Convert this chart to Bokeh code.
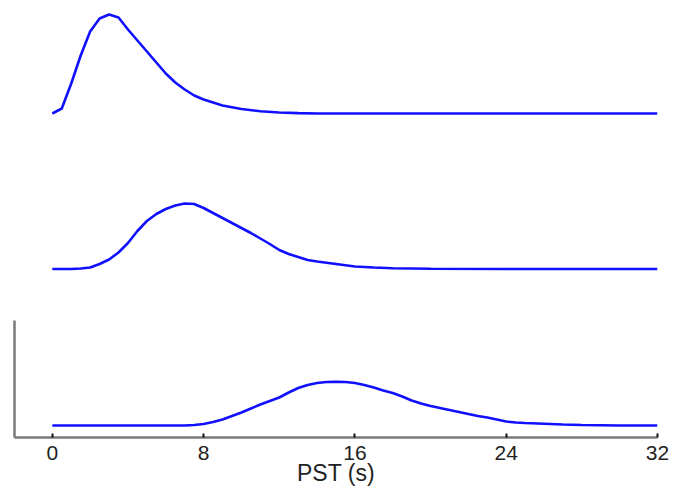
from bokeh.plotting import figure
from bokeh.models import FixedTicker, Range1d
from bokeh.embed import file_html
from bokeh.resources import INLINE

# Peri-stimulus time (s) and response amplitudes (arbitrary units)
t_early = [0, 0.5, 1, 1.5, 2, 2.5, 3, 3.5, 4, 4.5, 5, 5.5, 6, 6.5, 7, 7.5, 8,
           9, 10, 11, 12, 13, 14, 16, 20, 24, 28, 32]
h_early = [0.0, 0.05, 0.30, 0.58, 0.82, 0.95, 0.99, 0.96, 0.84, 0.73, 0.62, 0.51,
           0.40, 0.31, 0.24, 0.18, 0.14, 0.08, 0.045, 0.022, 0.01, 0.004, 0.0,
           0.0, 0.0, 0.0, 0.0, 0.0]

t_mid = [0, 1, 1.5, 2, 2.5, 3, 3.5, 4, 4.5, 5, 5.5, 6, 6.5, 7, 7.5, 8, 8.5, 9,
         9.5, 10, 10.5, 11, 11.5, 12, 12.5, 13, 13.5, 14, 15, 16, 17, 18, 20,
         24, 28, 32]
h_mid = [0.0, 0.0, 0.005, 0.015, 0.05, 0.095, 0.165, 0.26, 0.38, 0.48, 0.55,
         0.60, 0.635, 0.655, 0.65, 0.61, 0.56, 0.51, 0.46, 0.41, 0.36, 0.305,
         0.25, 0.19, 0.15, 0.12, 0.09, 0.075, 0.05, 0.025, 0.015, 0.007, 0.002,
         0.0, 0.0, 0.0]

t_late = [0, 4, 7, 7.5, 8, 8.5, 9, 9.5, 10, 10.5, 11, 11.5, 12, 12.5, 13, 13.5,
          14, 14.5, 15, 15.5, 16, 16.5, 17, 17.5, 18, 18.5, 19, 19.5, 20, 20.5,
          21, 21.5, 22, 22.5, 23, 23.5, 24, 24.5, 25, 26, 27, 28, 30, 32]
h_late = [0.0, 0.0, 0.0, 0.005, 0.015, 0.035, 0.06, 0.095, 0.13, 0.17, 0.21,
          0.245, 0.28, 0.33, 0.375, 0.405, 0.425, 0.435, 0.438, 0.435, 0.425,
          0.405, 0.38, 0.35, 0.325, 0.29, 0.25, 0.22, 0.195, 0.175, 0.155,
          0.135, 0.115, 0.095, 0.08, 0.06, 0.04, 0.03, 0.025, 0.018, 0.01,
          0.005, 0.0, 0.0]

# vertical offsets of the stacked curves
offsets = [3.24, 1.685, 0.12]

x_ticks = [0, 8, 16, 24, 32]
x_label = "PST (s)"

FONT = "Liberation Sans"

p = figure(frame_width=643, frame_height=429, output_backend="svg",
           toolbar_location=None, x_range=Range1d(-2, 32), y_range=Range1d(0, 4.29),
           min_border_left=14, min_border_right=14, min_border_top=8,
           min_border_bottom=40)
p.outline_line_color = None
p.grid.visible = False
p.background_fill_color = "white"
p.border_fill_color = "white"

for t, h, off in [(t_early, h_early, offsets[0]), (t_mid, h_mid, offsets[1]),
                  (t_late, h_late, offsets[2])]:
    p.line(t, [off + v for v in h], line_color="#1010ff", line_width=2.6)

xa = p.xaxis[0]
xa.ticker = FixedTicker(ticks=x_ticks)
xa.bounds = (-2, 32)
xa.axis_line_color = "#7a7a7a"
xa.axis_line_width = 2.5
xa.major_tick_in = 4
xa.major_tick_out = 0
xa.major_tick_line_color = "#111111"
xa.major_tick_line_width = 2
xa.minor_tick_line_color = None
xa.major_label_text_font = FONT
xa.major_label_text_font_size = "21px"
xa.major_label_text_color = "#222222"
xa.major_label_standoff = 8
xa.axis_label = x_label
xa.axis_label_text_font = FONT
xa.axis_label_text_font_size = "23px"
xa.axis_label_text_font_style = "normal"
xa.axis_label_text_color = "#222222"
xa.axis_label_standoff = -3

ya = p.yaxis[0]
ya.ticker = FixedTicker(ticks=[])
ya.bounds = (0, 1.17)
ya.axis_line_color = "#7a7a7a"
ya.axis_line_width = 2.5
ya.major_tick_in = 0
ya.major_tick_out = 0
ya.minor_tick_line_color = None
ya.major_label_standoff = 0

open("out.html", "w").write(file_html(p, INLINE))
